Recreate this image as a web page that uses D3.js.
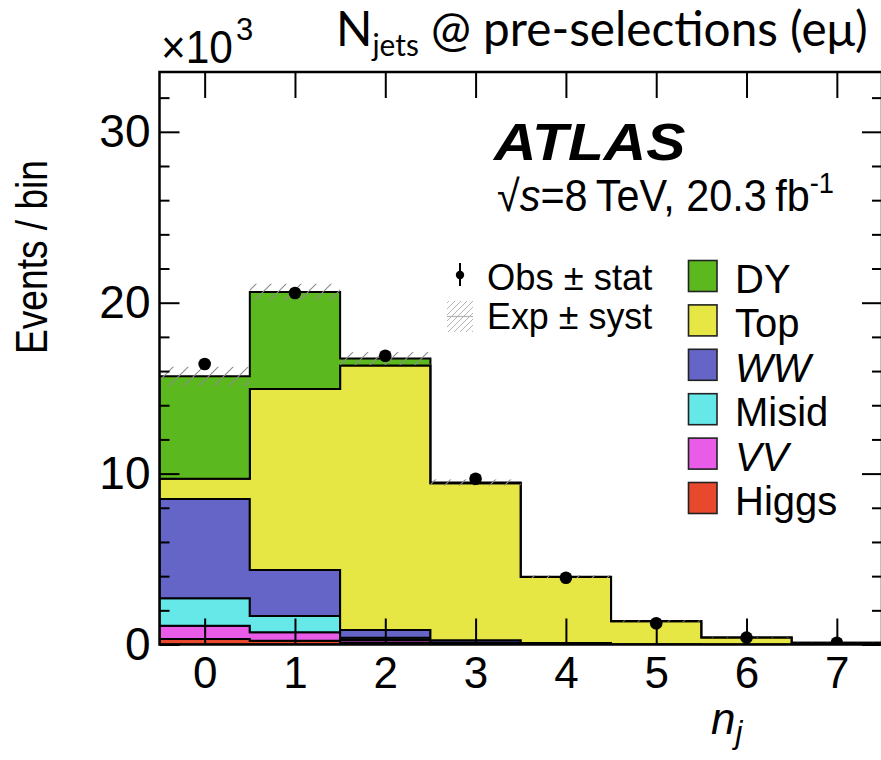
<!DOCTYPE html>
<html>
<head>
<meta charset="utf-8">
<script src="https://cdn.jsdelivr.net/npm/d3@7"></script>
<style>
  html, body { margin: 0; padding: 0; background: #fff; }
  svg { display: block; }
  text { font-family: "Liberation Sans", Arial, Helvetica, sans-serif; fill: #000; }
</style>
</head>
<body>
<svg id="chart" width="881" height="760"></svg>
<script>
// Jet multiplicity, e-mu channel, pre-selection (events per bin)
const bins = [0, 1, 2, 3, 4, 5, 6, 7];
const higgsEvents = [320, 220, 120, 30, 10, 0, 0, 0];
const vvEvents    = [780, 490, 140, 30, 10, 5, 0, 0];
const misidEvents = [1610, 960, 140, 40, 20, 5, 0, 0];
const wwEvents    = [5810, 2690, 450, 150, 50, 10, 0, 0];
const topEvents   = [1180, 10590, 15480, 9180, 3860, 1340, 410, 100];
const dyEvents    = [5990, 5680, 400, 50, 20, 10, 5, 0];
const observed = [16410, 20570, 16900, 9700, 3910, 1240, 400, 100];
const systematic = [560, 480, 380, 180, 90, 40, 15, 5];

const processNames = ["Higgs", "VV", "Misid", "WW", "Top", "DY"];      // stacking order, bottom first
const processValues = [higgsEvents, vvEvents, misidEvents, wwEvents, topEvents, dyEvents];
const processColors = ["#e8482c", "#e85ce8", "#66e8e8", "#6565c8", "#e6e645", "#5bb81e"];
const legendOrder = ["DY", "Top", "WW", "Misid", "VV", "Higgs"];
const italicNames = ["WW", "VV"];

const yMajorTicks = [0, 10000, 20000, 30000];
const yMinorTicks = [2000, 4000, 6000, 8000, 12000, 14000, 16000, 18000, 22000, 24000, 26000, 28000, 32000];

const svg = d3.select("#chart");
const L = 159.5, R = 882, T = 72, B = 644.5;

const x = d3.scaleLinear().domain([-0.5, 7.5]).range([L, R]);
const y = d3.scaleLinear().domain([0, 33500]).range([B, T]);

// stacked histogram
const rows = bins.map((b, i) => {
  const r = { bin: b };
  processNames.forEach((k, j) => { r[k] = processValues[j][i]; });
  return r;
});
const series = d3.stack().keys(processNames)(rows);

const stepPoints = s => s.flatMap((d, i) => [
  { x: bins[i] - 0.5, y0: d[0], y1: d[1] },
  { x: bins[i] + 0.5, y0: d[0], y1: d[1] }
]);
const area = d3.area().x(d => x(d.x)).y0(d => y(d.y0)).y1(d => y(d.y1));

const defs = svg.append("defs");
const pat = defs.append("pattern").attr("id", "hatch").attr("patternUnits", "userSpaceOnUse")
  .attr("width", 15).attr("height", 15);
pat.append("path").attr("d", "M0,15 L15,0 M-3,3 L3,-3 M12,18 L18,12")
  .attr("stroke", "#8c8c8c").attr("stroke-width", 1.1).attr("fill", "none");
const patSmall = defs.append("pattern").attr("id", "hatchSmall").attr("patternUnits", "userSpaceOnUse")
  .attr("width", 6).attr("height", 6);
patSmall.append("path").attr("d", "M0,6 L6,0 M-1.5,1.5 L1.5,-1.5 M4.5,7.5 L7.5,4.5")
  .attr("stroke", "#b4b4b4").attr("stroke-width", 1).attr("fill", "none");
defs.append("clipPath").attr("id", "frameClip").append("rect")
  .attr("x", L).attr("y", T).attr("width", R - L).attr("height", B - T);

const plot = svg.append("g").attr("clip-path", "url(#frameClip)");

plot.selectAll("path.layer").data(series).join("path")
  .attr("class", "layer")
  .attr("d", s => area(stepPoints(s)))
  .attr("fill", (s, i) => processColors[i])
  .attr("stroke", "#000").attr("stroke-width", 2).attr("stroke-linejoin", "miter");

// systematic band
const totals = bins.map((b, i) => processValues.reduce((a, v) => a + v[i], 0));
plot.selectAll("rect.syst").data(bins).join("rect")
  .attr("class", "syst")
  .attr("x", b => x(b - 0.5)).attr("width", b => x(b + 0.5) - x(b - 0.5))
  .attr("y", (b, i) => y(totals[i] + systematic[i]))
  .attr("height", (b, i) => y(totals[i] - systematic[i]) - y(totals[i] + systematic[i]))
  .attr("fill", "url(#hatch)");

// observed data with statistical error
plot.selectAll("line.err").data(bins).join("line")
  .attr("class", "err")
  .attr("x1", b => x(b)).attr("x2", b => x(b))
  .attr("y1", (b, i) => y(observed[i] + Math.sqrt(observed[i])))
  .attr("y2", (b, i) => y(Math.max(0, observed[i] - Math.sqrt(observed[i]))))
  .attr("stroke", "#000").attr("stroke-width", 2);
plot.selectAll("circle.obs").data(bins).join("circle")
  .attr("class", "obs")
  .attr("cx", b => x(b)).attr("cy", (b, i) => y(observed[i])).attr("r", 6.3)
  .attr("fill", "#000");

// axes with inward ticks
const styleAxis = g => {
  g.select(".domain").remove();
  g.selectAll(".tick line").attr("stroke", "#000").attr("stroke-width", 2);
};
svg.append("g").attr("transform", `translate(0,${B})`)
  .call(d3.axisBottom(x).tickValues(bins).tickSize(-26).tickPadding(12).tickFormat(d3.format("d")))
  .call(styleAxis)
  .call(g => g.selectAll("text").attr("font-size", 44).style("font-family", "Liberation Sans, Arial, sans-serif"));
svg.append("g").attr("transform", `translate(0,${T})`)
  .call(d3.axisTop(x).tickValues(bins).tickSize(-26).tickFormat(""))
  .call(styleAxis);
svg.append("g").attr("transform", `translate(${L},0)`)
  .call(d3.axisLeft(y).tickValues(yMajorTicks).tickSize(-20).tickPadding(9).tickFormat(d => d / 1000))
  .call(styleAxis)
  .call(g => g.selectAll("text").attr("font-size", 46).style("font-family", "Liberation Sans, Arial, sans-serif"));
svg.append("g").attr("transform", `translate(${L},0)`)
  .call(d3.axisLeft(y).tickValues(yMinorTicks).tickSize(-10).tickFormat(""))
  .call(styleAxis);
svg.append("g").attr("transform", `translate(${R},0)`)
  .call(d3.axisRight(y).tickValues(yMajorTicks).tickSize(-20).tickFormat(""))
  .call(styleAxis);
svg.append("g").attr("transform", `translate(${R},0)`)
  .call(d3.axisRight(y).tickValues(yMinorTicks).tickSize(-10).tickFormat(""))
  .call(styleAxis);

svg.append("rect").attr("x", L).attr("y", T).attr("width", R - L).attr("height", B - T)
  .attr("fill", "none").attr("stroke", "#000").attr("stroke-width", 2.5);

// text helper: text inside a positioned group, optionally stretched to a given width
const fits = [];
function label(px, py, opts) {
  const g = svg.append("g").attr("transform", `translate(${px},${py})${opts.rotate ? ` rotate(${opts.rotate})` : ""}`);
  const t = g.append("text").attr("x", 0).attr("y", 0)
    .attr("text-anchor", opts.anchor || "start")
    .attr("font-size", opts.size);
  if (opts.family) t.style("font-family", opts.family);
  if (opts.weight) t.attr("font-weight", opts.weight);
  if (opts.italic) t.attr("font-style", "italic");
  if (opts.width) fits.push({ g, t, px, py, w: opts.width, rotate: opts.rotate });
  return t;
}

// axis titles
label(47, 257, { size: 44, anchor: "middle", rotate: -90, width: 194 }).text("Events / bin");
const xt = label(711, 734, { size: 44, italic: true });
xt.append("tspan").text("n");
xt.append("tspan").attr("font-size", 31).attr("dy", 9).text("j");

// exponent
const ex = label(161, 63, { size: 47, width: 72 });
ex.append("tspan").text("×10");
const ex3 = label(236, 40, { size: 31 });
ex3.text("3");

// page title
const tt = label(336, 46, { size: 48, family: "Lato, 'Open Sans', sans-serif", width: 532 });
tt.append("tspan").text("N");
tt.append("tspan").attr("font-size", 30).attr("dy", 10).text("jets");
tt.append("tspan").attr("dy", -10).text(" @ pre-selections (eμ)");

// experiment label
label(494, 160, { size: 52, weight: "bold", italic: true, width: 194 }).text("ATLAS");
const en = label(497, 211, { size: 44, width: 337 });
en.append("tspan").text("√");
en.append("tspan").attr("font-style", "italic").text("s");
en.append("tspan").text("=8\u2009TeV, 20.3\u2009fb");
en.append("tspan").attr("font-size", 29).attr("dy", -18).text("-1");

// legend: observed and uncertainty
svg.append("line").attr("x1", 460).attr("x2", 460).attr("y1", 263).attr("y2", 286)
  .attr("stroke", "#000").attr("stroke-width", 2);
svg.append("circle").attr("cx", 460).attr("cy", 275).attr("r", 4.2).attr("fill", "#000");
label(487, 290, { size: 37, width: 166 }).text("Obs ± stat");
svg.append("rect").attr("x", 447).attr("y", 301).attr("width", 26).attr("height", 31).attr("fill", "url(#hatchSmall)");
svg.append("line").attr("x1", 447).attr("x2", 473).attr("y1", 316.5).attr("y2", 316.5)
  .attr("stroke", "#b4b4b4").attr("stroke-width", 1.2);
label(487, 329, { size: 37, width: 166 }).text("Exp ± syst");

// legend: processes
const legend = svg.append("g");
legendOrder.forEach((name, i) => {
  const j = processNames.indexOf(name);
  const cy = 293 + i * 44.4;
  legend.append("rect").attr("x", 688.5).attr("y", cy - 32.5).attr("width", 28.5).attr("height", 31)
    .attr("fill", processColors[j]).attr("stroke", "#222").attr("stroke-width", 1.6);
  const t = legend.append("text").attr("x", 735).attr("y", cy).attr("font-size", 40).text(name);
  if (italicNames.includes(name)) t.attr("font-style", "italic");
});

// apply horizontal fitting
fits.forEach(f => {
  const bw = f.t.node().getBBox().width;
  const s = f.w / bw;
  f.g.attr("transform", `translate(${f.px},${f.py})${f.rotate ? ` rotate(${f.rotate})` : ""} scale(${s},1)`);
});
</script>
</body>
</html>
